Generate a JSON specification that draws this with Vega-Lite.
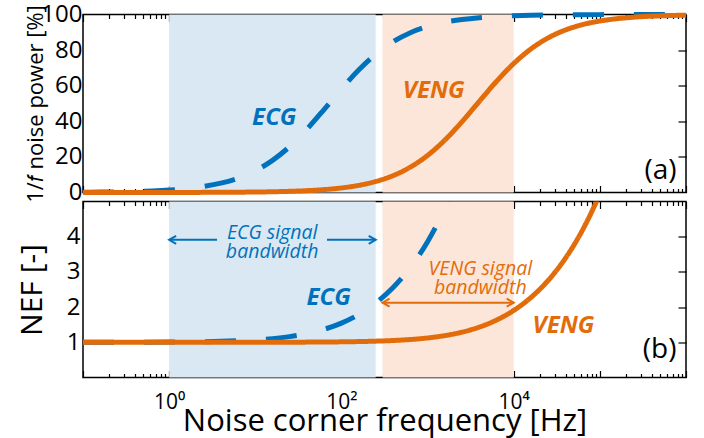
{
  "$schema": "https://vega.github.io/schema/vega-lite/v6.json",
  "background": "white",
  "padding": {"left": 16, "top": 1.5, "right": 16, "bottom": 0},
  "bounds": "flush",
  "spacing": 9,
  "config": {
    "font": "Open Sans",
    "view": {"stroke": "#000", "strokeWidth": 1.5},
    "axis": {"grid": false, "domain": false, "tickColor": "#000", "tickWidth": 1.2, "labelColor": "#000", "titleColor": "#000", "labelFont": "Open Sans", "titleFont": "Open Sans", "titleFontWeight": "normal"}
  },
  "datasets": {
    "bands": [
      {"band": "ECG", "lo": 1, "hi": 250},
      {"band": "VENG", "lo": 300, "hi": 10000}
    ],
    "power": [
      {"series": "ECG", "f": 0.1, "p": 0.14}, {"series": "ECG", "f": 0.1585, "p": 0.22}, {"series": "ECG", "f": 0.2512, "p": 0.35},
      {"series": "ECG", "f": 0.3981, "p": 0.55}, {"series": "ECG", "f": 0.631, "p": 0.87}, {"series": "ECG", "f": 1, "p": 1.37},
      {"series": "ECG", "f": 1.585, "p": 2.15}, {"series": "ECG", "f": 2.512, "p": 3.37}, {"series": "ECG", "f": 3.981, "p": 5.24},
      {"series": "ECG", "f": 6.31, "p": 8.06}, {"series": "ECG", "f": 10, "p": 12.2}, {"series": "ECG", "f": 15.85, "p": 18.04},
      {"series": "ECG", "f": 25.12, "p": 25.86}, {"series": "ECG", "f": 39.81, "p": 35.6}, {"series": "ECG", "f": 63.1, "p": 46.71},
      {"series": "ECG", "f": 100, "p": 58.14}, {"series": "ECG", "f": 158.5, "p": 68.77}, {"series": "ECG", "f": 251.2, "p": 77.72},
      {"series": "ECG", "f": 398.1, "p": 84.68}, {"series": "ECG", "f": 631, "p": 89.76}, {"series": "ECG", "f": 1000, "p": 93.28},
      {"series": "ECG", "f": 1585, "p": 95.65}, {"series": "ECG", "f": 2512, "p": 97.21}, {"series": "ECG", "f": 3981, "p": 98.22},
      {"series": "ECG", "f": 6310, "p": 98.87}, {"series": "ECG", "f": 10000, "p": 99.29}, {"series": "ECG", "f": 15850, "p": 99.55},
      {"series": "ECG", "f": 25120, "p": 99.71}, {"series": "ECG", "f": 39810, "p": 99.82}, {"series": "ECG", "f": 63100, "p": 99.89},
      {"series": "ECG", "f": 100000, "p": 99.93}, {"series": "ECG", "f": 158500, "p": 99.95}, {"series": "ECG", "f": 251200, "p": 99.97},
      {"series": "ECG", "f": 398100, "p": 99.98}, {"series": "ECG", "f": 631000, "p": 99.99}, {"series": "ECG", "f": 1000000, "p": 99.99},
      {"series": "VENG", "f": 0.1, "p": 0.0}, {"series": "VENG", "f": 1, "p": 0.03}, {"series": "VENG", "f": 10, "p": 0.26},
      {"series": "VENG", "f": 15.85, "p": 0.42}, {"series": "VENG", "f": 25.12, "p": 0.66}, {"series": "VENG", "f": 39.81, "p": 1.04},
      {"series": "VENG", "f": 63.1, "p": 1.63}, {"series": "VENG", "f": 100, "p": 2.56}, {"series": "VENG", "f": 158.5, "p": 4.0},
      {"series": "VENG", "f": 251.2, "p": 6.2}, {"series": "VENG", "f": 398.1, "p": 9.48}, {"series": "VENG", "f": 631, "p": 14.24},
      {"series": "VENG", "f": 1000, "p": 20.83}, {"series": "VENG", "f": 1585, "p": 29.43}, {"series": "VENG", "f": 2512, "p": 39.8},
      {"series": "VENG", "f": 3981, "p": 51.16}, {"series": "VENG", "f": 6310, "p": 62.41}, {"series": "VENG", "f": 10000, "p": 72.46},
      {"series": "VENG", "f": 15850, "p": 80.66}, {"series": "VENG", "f": 25120, "p": 86.86}, {"series": "VENG", "f": 39810, "p": 91.29},
      {"series": "VENG", "f": 63100, "p": 94.32}, {"series": "VENG", "f": 100000, "p": 96.34}, {"series": "VENG", "f": 158500, "p": 97.66},
      {"series": "VENG", "f": 251200, "p": 98.51}, {"series": "VENG", "f": 398100, "p": 99.05}, {"series": "VENG", "f": 631000, "p": 99.4},
      {"series": "VENG", "f": 1000000, "p": 99.62}
    ],
    "nef": [
      {"series": "ECG", "f": 0.1, "v": 1.0007}, {"series": "ECG", "f": 1, "v": 1.0069}, {"series": "ECG", "f": 1.585, "v": 1.011},
      {"series": "ECG", "f": 2.512, "v": 1.0173}, {"series": "ECG", "f": 3.981, "v": 1.0273}, {"series": "ECG", "f": 6.31, "v": 1.0429},
      {"series": "ECG", "f": 10, "v": 1.0672}, {"series": "ECG", "f": 15.85, "v": 1.1046}, {"series": "ECG", "f": 25.12, "v": 1.1614},
      {"series": "ECG", "f": 39.81, "v": 1.2462}, {"series": "ECG", "f": 63.1, "v": 1.3698}, {"series": "ECG", "f": 100, "v": 1.5456},
      {"series": "ECG", "f": 158.5, "v": 1.7893}, {"series": "ECG", "f": 251.2, "v": 2.1187}, {"series": "ECG", "f": 398.1, "v": 2.5552},
      {"series": "ECG", "f": 631, "v": 3.1247}, {"series": "ECG", "f": 1000, "v": 3.8586}, {"series": "ECG", "f": 1585, "v": 4.7973},
      {"series": "ECG", "f": 2512, "v": 5.9907},
      {"series": "VENG", "f": 0.1, "v": 1.0}, {"series": "VENG", "f": 10, "v": 1.0013}, {"series": "VENG", "f": 39.81, "v": 1.0052},
      {"series": "VENG", "f": 100, "v": 1.0131}, {"series": "VENG", "f": 158.5, "v": 1.0206}, {"series": "VENG", "f": 251.2, "v": 1.0325},
      {"series": "VENG", "f": 398.1, "v": 1.0511}, {"series": "VENG", "f": 631, "v": 1.0798}, {"series": "VENG", "f": 1000, "v": 1.1239},
      {"series": "VENG", "f": 1585, "v": 1.1904}, {"series": "VENG", "f": 2512, "v": 1.2888}, {"series": "VENG", "f": 3981, "v": 1.431},
      {"series": "VENG", "f": 6310, "v": 1.6311}, {"series": "VENG", "f": 10000, "v": 1.9057}, {"series": "VENG", "f": 15850, "v": 2.274},
      {"series": "VENG", "f": 25120, "v": 2.7587}, {"series": "VENG", "f": 39810, "v": 3.3877}, {"series": "VENG", "f": 63100, "v": 4.1957},
      {"series": "VENG", "f": 100000, "v": 5.2265}, {"series": "VENG", "f": 158500, "v": 6.5351}
    ],
    "arrows": [
      {"series": "ECG", "lo": 1, "hi": 3.6, "v": 3.91},
      {"series": "ECG", "lo": 68, "hi": 250, "v": 3.91},
      {"series": "VENG", "lo": 300, "hi": 10000, "v": 2.125}
    ],
    "heads": [
      {"series": "ECG", "f": 1, "v": 3.91, "dir": "left"},
      {"series": "ECG", "f": 250, "v": 3.91, "dir": "right"},
      {"series": "VENG", "f": 300, "v": 2.125, "dir": "left"},
      {"series": "VENG", "f": 10000, "v": 2.125, "dir": "right"}
    ],
    "labelsA": [
      {"series": "ECG", "f": 16.6, "y": 41.9, "text": "ECG"},
      {"series": "VENG", "f": 1180, "y": 57, "text": "VENG"}
    ],
    "labelsB": [
      {"series": "ECG", "f": 71, "y": 2.26, "text": "ECG"},
      {"series": "VENG", "f": 37800, "y": 1.46, "text": "VENG"}
    ],
    "bandText": [
      {"series": "ECG", "f": 15.7, "y": 4.1, "text": ["ECG signal", "bandwidth"]},
      {"series": "VENG", "f": 4100, "y": 3.08, "text": ["VENG signal", "bandwidth"]}
    ],
    "tagA": [{"f": 776000, "y": 12.1, "text": "(a)"}],
    "tagB": [{"f": 776000, "y": 0.78, "text": "(b)"}]
  },
  "vconcat": [
    {
      "width": 603,
      "height": 178,
      "resolve": {"axis": {"x": "independent", "y": "independent"}},
      "layer": [
        {
          "data": {"name": "bands"},
          "mark": {"type": "rect"},
          "encoding": {
            "x": {"field": "lo", "type": "quantitative", "scale": {"type": "log", "domain": [0.1, 1000000], "nice": false},
              "axis": {"orient": "bottom", "title": null, "labels": false,
                "values": [0.1,0.2,0.3,0.4,0.5,0.6,0.7,0.8,0.9,1,2,3,4,5,6,7,8,9,10,20,30,40,50,60,70,80,90,100,200,300,400,500,600,700,800,900,1000,2000,3000,4000,5000,6000,7000,8000,9000,10000,20000,30000,40000,50000,60000,70000,80000,90000,100000,200000,300000,400000,500000,600000,700000,800000,900000,1000000],
                "tickSize": {"condition": {"test": "abs(log(datum.value)/LN10 - round(log(datum.value)/LN10)) < 0.001", "value": -7}, "value": -4}}},
            "x2": {"field": "hi"},
            "fill": {"field": "band", "type": "nominal", "scale": {"domain": ["ECG", "VENG"], "range": ["#DAE8F3", "#FBE6D9"]}, "legend": null}
          }
        },
        {
          "data": {"name": "power"},
          "mark": {"type": "line", "strokeWidth": 5, "interpolate": "monotone"},
          "encoding": {
            "x": {"field": "f", "type": "quantitative",
              "axis": {"orient": "top", "title": null, "labels": false,
                "values": [0.1,0.2,0.3,0.4,0.5,0.6,0.7,0.8,0.9,1,2,3,4,5,6,7,8,9,10,20,30,40,50,60,70,80,90,100,200,300,400,500,600,700,800,900,1000,2000,3000,4000,5000,6000,7000,8000,9000,10000,20000,30000,40000,50000,60000,70000,80000,90000,100000,200000,300000,400000,500000,600000,700000,800000,900000,1000000],
                "tickSize": {"condition": {"test": "abs(log(datum.value)/LN10 - round(log(datum.value)/LN10)) < 0.001", "value": -7}, "value": -4}}},
            "y": {"field": "p", "type": "quantitative", "scale": {"domain": [0, 100], "nice": false},
              "axis": {"orient": "left", "values": [0, 20, 40, 60, 80, 100], "ticks": false, "labelFontSize": 24, "labelPadding": 1,
                "title": "1/𝑓 noise power [%]", "titleFontSize": 22, "titlePadding": -7}},
            "stroke": {"field": "series", "type": "nominal", "scale": {"domain": ["ECG", "VENG"], "range": ["#0072BD", "#E36C0A"]}, "legend": null},
            "strokeDash": {"field": "series", "type": "nominal", "scale": {"domain": ["ECG", "VENG"], "range": [[31, 30], [1, 0]]}, "legend": null},
            "order": {"field": "f", "type": "quantitative"}
          }
        },
        {
          "data": {"name": "labelsA"},
          "mark": {"type": "text", "fontSize": 24, "fontWeight": "bold", "fontStyle": "italic", "baseline": "middle", "align": "center"},
          "encoding": {
            "x": {"field": "f", "type": "quantitative", "axis": null},
            "y": {"field": "y", "type": "quantitative",
              "axis": {"orient": "right", "values": [20, 40, 60, 80], "labels": false, "title": null, "tickSize": -8}},
            "text": {"field": "text"},
            "color": {"field": "series", "type": "nominal", "scale": {"domain": ["ECG", "VENG"], "range": ["#0072BD", "#E36C0A"]}, "legend": null}
          }
        },
        {
          "data": {"name": "tagA"},
          "mark": {"type": "text", "fontSize": 28, "baseline": "middle", "align": "right", "color": "#000"},
          "encoding": {
            "x": {"field": "f", "type": "quantitative", "axis": null},
            "y": {"field": "y", "type": "quantitative", "axis": null},
            "text": {"field": "text"}
          }
        }
      ]
    },
    {
      "width": 603,
      "height": 176,
      "resolve": {"axis": {"x": "independent", "y": "independent"}},
      "layer": [
        {
          "data": {"name": "bands"},
          "mark": {"type": "rect"},
          "encoding": {
            "x": {"field": "lo", "type": "quantitative", "scale": {"type": "log", "domain": [0.1, 1000000], "nice": false},
              "axis": {"orient": "bottom", "title": "Noise corner frequency [Hz]", "titleFontSize": 31, "titlePadding": -9,
                "labelFontSize": 21, "labelPadding": 21, "labelOverlap": false, "labelFlush": false,
                "labelExpr": "datum.value == 1 ? '10⁰' : datum.value == 100 ? '10²' : datum.value == 10000 ? '10⁴' : ''",
                "values": [0.1,0.2,0.3,0.4,0.5,0.6,0.7,0.8,0.9,1,2,3,4,5,6,7,8,9,10,20,30,40,50,60,70,80,90,100,200,300,400,500,600,700,800,900,1000,2000,3000,4000,5000,6000,7000,8000,9000,10000,20000,30000,40000,50000,60000,70000,80000,90000,100000,200000,300000,400000,500000,600000,700000,800000,900000,1000000],
                "tickSize": {"condition": {"test": "abs(log(datum.value)/LN10 - round(log(datum.value)/LN10)) < 0.001", "value": -7}, "value": -4}}},
            "x2": {"field": "hi"},
            "fill": {"field": "band", "type": "nominal", "scale": {"domain": ["ECG", "VENG"], "range": ["#DAE8F3", "#FBE6D9"]}, "legend": null}
          }
        },
        {
          "data": {"name": "nef"},
          "mark": {"type": "line", "strokeWidth": 5, "interpolate": "monotone", "clip": true},
          "encoding": {
            "x": {"field": "f", "type": "quantitative",
              "axis": {"orient": "top", "title": null, "labels": false,
                "values": [0.1,0.2,0.3,0.4,0.5,0.6,0.7,0.8,0.9,1,2,3,4,5,6,7,8,9,10,20,30,40,50,60,70,80,90,100,200,300,400,500,600,700,800,900,1000,2000,3000,4000,5000,6000,7000,8000,9000,10000,20000,30000,40000,50000,60000,70000,80000,90000,100000,200000,300000,400000,500000,600000,700000,800000,900000,1000000],
                "tickSize": {"condition": {"test": "abs(log(datum.value)/LN10 - round(log(datum.value)/LN10)) < 0.001", "value": -7}, "value": -4}}},
            "y": {"field": "v", "type": "quantitative", "scale": {"domain": [0, 5], "nice": false},
              "axis": {"orient": "left", "values": [1, 2, 3, 4], "ticks": false, "labelFontSize": 24, "labelPadding": 3,
                "title": "NEF [-]", "titleFontSize": 30, "titlePadding": 19}},
            "stroke": {"field": "series", "type": "nominal", "scale": {"domain": ["ECG", "VENG"], "range": ["#0072BD", "#E36C0A"]}, "legend": null},
            "strokeDash": {"field": "series", "type": "nominal", "scale": {"domain": ["ECG", "VENG"], "range": [[31, 30], [1, 0]]}, "legend": null},
            "order": {"field": "f", "type": "quantitative"}
          }
        },
        {
          "data": {"name": "arrows"},
          "mark": {"type": "rule", "strokeWidth": 2},
          "encoding": {
            "x": {"field": "lo", "type": "quantitative", "axis": null},
            "x2": {"field": "hi"},
            "y": {"field": "v", "type": "quantitative",
              "axis": {"orient": "right", "values": [1, 2, 3, 4], "labels": false, "title": null, "tickSize": -8}},
            "color": {"field": "series", "type": "nominal", "scale": {"domain": ["ECG", "VENG"], "range": ["#0072BD", "#E36C0A"]}, "legend": null}
          }
        },
        {
          "data": {"name": "heads"},
          "mark": {"type": "point", "filled": false, "strokeWidth": 2, "size": 100, "opacity": 1},
          "encoding": {
            "x": {"field": "f", "type": "quantitative", "axis": null},
            "y": {"field": "v", "type": "quantitative", "axis": null},
            "shape": {"field": "dir", "type": "nominal", "scale": {"domain": ["left", "right"], "range": ["M1.4,-0.8L0,0L1.4,0.8", "M-1.4,-0.8L0,0L-1.4,0.8"]}, "legend": null},
            "color": {"field": "series", "type": "nominal", "scale": {"domain": ["ECG", "VENG"], "range": ["#0072BD", "#E36C0A"]}, "legend": null}
          }
        },
        {
          "data": {"name": "bandText"},
          "mark": {"type": "text", "fontSize": 19.5, "fontStyle": "italic", "baseline": "middle", "align": "center", "lineHeight": 19},
          "encoding": {
            "x": {"field": "f", "type": "quantitative", "axis": null},
            "y": {"field": "y", "type": "quantitative", "axis": null},
            "text": {"field": "text"},
            "color": {"field": "series", "type": "nominal", "scale": {"domain": ["ECG", "VENG"], "range": ["#0072BD", "#E36C0A"]}, "legend": null}
          }
        },
        {
          "data": {"name": "labelsB"},
          "mark": {"type": "text", "fontSize": 24, "fontWeight": "bold", "fontStyle": "italic", "baseline": "middle", "align": "center"},
          "encoding": {
            "x": {"field": "f", "type": "quantitative", "axis": null},
            "y": {"field": "y", "type": "quantitative", "axis": null},
            "text": {"field": "text"},
            "color": {"field": "series", "type": "nominal", "scale": {"domain": ["ECG", "VENG"], "range": ["#0072BD", "#E36C0A"]}, "legend": null}
          }
        },
        {
          "data": {"name": "tagB"},
          "mark": {"type": "text", "fontSize": 28, "baseline": "middle", "align": "right", "color": "#000"},
          "encoding": {
            "x": {"field": "f", "type": "quantitative", "axis": null},
            "y": {"field": "y", "type": "quantitative", "axis": null},
            "text": {"field": "text"}
          }
        }
      ]
    }
  ]
}
